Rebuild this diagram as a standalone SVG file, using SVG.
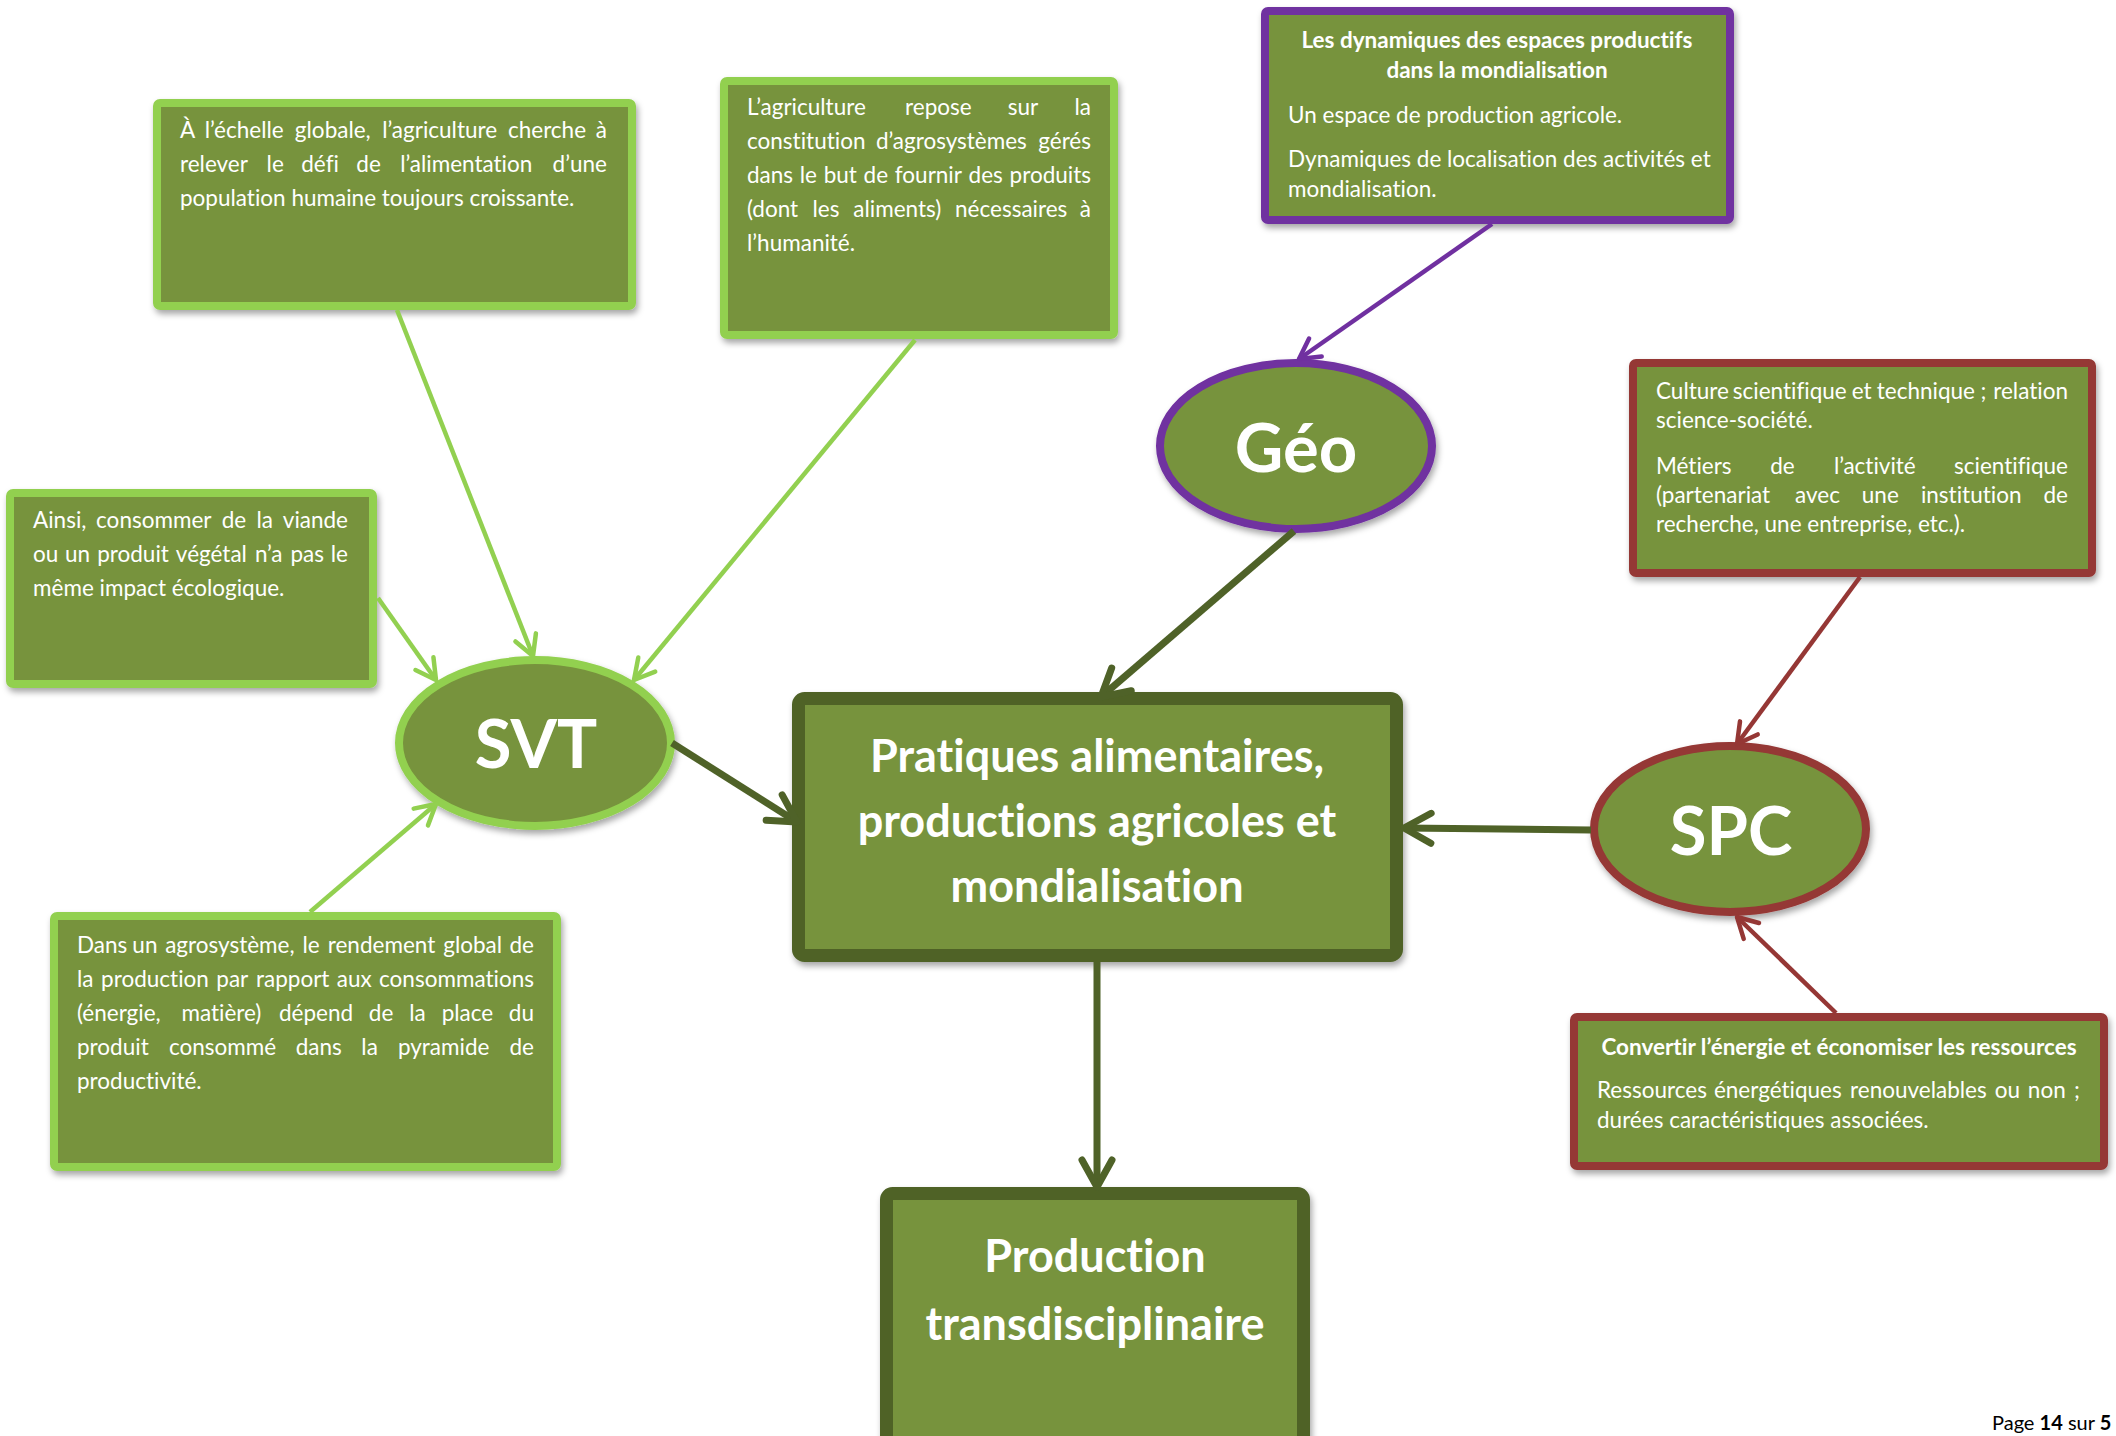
<svg xmlns="http://www.w3.org/2000/svg" width="2116" height="1436" viewBox="0 0 2116 1436">
  <style>
    text { font-variant-ligatures: none; font-feature-settings: "liga" 0, "clig" 0; }
    .t { font-family: Lato, "Liberation Sans", sans-serif; font-size: 22.5px; fill: #ffffff; }
    .tb { font-weight: bold; }
    .m { text-anchor: middle; }
    .e { text-anchor: end; }
    .big { font-family: Lato, "Liberation Sans", sans-serif; font-weight: bold; font-size: 45px; fill: #ffffff; text-anchor: middle; }
    .lab { font-family: Lato, "Liberation Sans", sans-serif; font-weight: bold; font-size: 67px; fill: #ffffff; text-anchor: middle; }
    .bx { fill: #77933C; stroke-width: 8; filter: url(#sh); }
    .lg { stroke: #92D050; }
    .pu { stroke: #7030A0; }
    .rd { stroke: #953735; }
    .dk { stroke: #4F6228; stroke-width: 13; }
    .c { fill: none; stroke-width: 4.5; }
    .cd { fill: none; stroke: #4F6228; stroke-width: 7; }
    .foot { font-family: Lato, "Liberation Sans", sans-serif; font-size: 20px; fill: #000000; }
  </style>
  <defs>
    <filter id="sh" x="-10%" y="-10%" width="125%" height="130%">
      <feDropShadow dx="2" dy="4" stdDeviation="3" flood-color="#000000" flood-opacity="0.35"/>
    </filter>
    <marker id="a-lg" viewBox="-26 -16 30 32" refX="0" refY="0" markerWidth="30" markerHeight="32" markerUnits="userSpaceOnUse" orient="auto">
      <path d="M-20,-11 L0,0 L-20,11" fill="none" stroke="#92D050" stroke-width="4.5" stroke-linecap="round" stroke-linejoin="round"/>
    </marker>
    <marker id="a-pu" viewBox="-26 -16 30 32" refX="0" refY="0" markerWidth="30" markerHeight="32" markerUnits="userSpaceOnUse" orient="auto">
      <path d="M-20,-11 L0,0 L-20,11" fill="none" stroke="#7030A0" stroke-width="4.5" stroke-linecap="round" stroke-linejoin="round"/>
    </marker>
    <marker id="a-rd" viewBox="-26 -16 30 32" refX="0" refY="0" markerWidth="30" markerHeight="32" markerUnits="userSpaceOnUse" orient="auto">
      <path d="M-20,-11 L0,0 L-20,11" fill="none" stroke="#953735" stroke-width="4.5" stroke-linecap="round" stroke-linejoin="round"/>
    </marker>
    <marker id="a-dg" viewBox="-34 -22 40 44" refX="0" refY="0" markerWidth="40" markerHeight="44" markerUnits="userSpaceOnUse" orient="auto">
      <path d="M-27,-15 L0,0 L-27,15" fill="none" stroke="#4F6228" stroke-width="7" stroke-linecap="round" stroke-linejoin="round"/>
    </marker>
  </defs>

  <rect x="0" y="0" width="2116" height="1436" fill="#ffffff"/>

  <!-- SVT: global food challenge -->
  <g id="svt-defi">
    <rect class="bx lg" x="157" y="103" width="475" height="203" rx="3"/>
    <text class="t" x="180" y="138">À</text>
    <text class="t m" x="244.2" y="138">l’échelle</text>
    <text class="t m" x="332.8" y="138">globale,</text>
    <text class="t m" x="439.7" y="138">l’agriculture</text>
    <text class="t m" x="547" y="138">cherche</text>
    <text class="t e" x="607" y="138">à</text>
    <text class="t" x="180" y="172">relever</text>
    <text class="t m" x="275.2" y="172">le</text>
    <text class="t m" x="320.1" y="172">défi</text>
    <text class="t m" x="368.6" y="172">de</text>
    <text class="t m" x="466.3" y="172">l’alimentation</text>
    <text class="t e" x="607" y="172">d’une</text>
    <text class="t" x="180" y="206">population humaine toujours croissante.</text>
  </g>

  <!-- SVT: agrosystems -->
  <g id="svt-agrosystemes">
    <rect class="bx lg" x="724" y="81" width="390" height="254" rx="3"/>
    <text class="t" x="747" y="115">L’agriculture</text>
    <text class="t m" x="938.4" y="115">repose</text>
    <text class="t m" x="1022.9" y="115">sur</text>
    <text class="t e" x="1091" y="115">la</text>
    <text class="t" x="747" y="149">constitution</text>
    <text class="t m" x="951.4" y="149">d’agrosystèmes</text>
    <text class="t e" x="1091" y="149">gérés</text>
    <text class="t" x="747" y="183">dans</text>
    <text class="t m" x="808.4" y="183">le</text>
    <text class="t m" x="840.3" y="183">but</text>
    <text class="t m" x="875.8" y="183">de</text>
    <text class="t m" x="928.4" y="183">fournir</text>
    <text class="t m" x="985.7" y="183">des</text>
    <text class="t e" x="1091" y="183">produits</text>
    <text class="t" x="747" y="217">(dont</text>
    <text class="t m" x="826" y="217">les</text>
    <text class="t m" x="897.3" y="217">aliments)</text>
    <text class="t m" x="1011.2" y="217">nécessaires</text>
    <text class="t e" x="1091" y="217">à</text>
    <text class="t" x="747" y="251">l’humanité.</text>
  </g>

  <!-- Géographie theme -->
  <g id="geo-theme">
    <rect class="bx pu" x="1265" y="11" width="465" height="209" rx="3"/>
    <text class="t tb m" x="1497" y="48">Les dynamiques des espaces productifs</text>
    <text class="t tb m" x="1497" y="78">dans la mondialisation</text>
    <text class="t" x="1288" y="123">Un espace de production agricole.</text>
    <text class="t" x="1288" y="167">Dynamiques de localisation des activités et</text>
    <text class="t" x="1288" y="197">mondialisation.</text>
  </g>

  <!-- SVT: ecological impact -->
  <g id="svt-impact">
    <rect class="bx lg" x="10" y="493" width="363" height="191" rx="3"/>
    <text class="t" x="33" y="528">Ainsi,</text>
    <text class="t m" x="153.8" y="528">consommer</text>
    <text class="t m" x="234" y="528">de</text>
    <text class="t m" x="264.7" y="528">la</text>
    <text class="t e" x="348" y="528">viande</text>
    <text class="t" x="33" y="562">ou</text>
    <text class="t m" x="77.5" y="562">un</text>
    <text class="t m" x="133" y="562">produit</text>
    <text class="t m" x="211.4" y="562">végétal</text>
    <text class="t m" x="268.7" y="562">n’a</text>
    <text class="t m" x="307.2" y="562">pas</text>
    <text class="t e" x="348" y="562">le</text>
    <text class="t" x="33" y="596">même impact écologique.</text>
  </g>

  <!-- SPC: scientific culture -->
  <g id="spc-culture">
    <rect class="bx rd" x="1633" y="363" width="459" height="210" rx="3"/>
    <text class="t" x="1656" y="399">Culture</text>
    <text class="t m" x="1789.8" y="399">scientifique</text>
    <text class="t m" x="1861.6" y="399">et</text>
    <text class="t m" x="1925.9" y="399">technique</text>
    <text class="t m" x="1983.4" y="399">;</text>
    <text class="t e" x="2068" y="399">relation</text>
    <text class="t" x="1656" y="428">science-société.</text>
    <text class="t" x="1656" y="474">Métiers</text>
    <text class="t m" x="1782.5" y="474">de</text>
    <text class="t m" x="1874.8" y="474">l’activité</text>
    <text class="t e" x="2068" y="474">scientifique</text>
    <text class="t" x="1656" y="503">(partenariat</text>
    <text class="t m" x="1817.5" y="503">avec</text>
    <text class="t m" x="1880.3" y="503">une</text>
    <text class="t m" x="1971.2" y="503">institution</text>
    <text class="t e" x="2068" y="503">de</text>
    <text class="t" x="1656" y="532">recherche, une entreprise, etc.).</text>
  </g>

  <!-- SVT: production efficiency -->
  <g id="svt-rendement">
    <rect class="bx lg" x="54" y="916" width="503" height="251" rx="3"/>
    <text class="t" x="77" y="953">Dans</text>
    <text class="t m" x="144.9" y="953">un</text>
    <text class="t m" x="229.9" y="953">agrosystème,</text>
    <text class="t m" x="311.1" y="953">le</text>
    <text class="t m" x="381.5" y="953">rendement</text>
    <text class="t m" x="472.7" y="953">global</text>
    <text class="t e" x="534" y="953">de</text>
    <text class="t" x="77" y="987">la</text>
    <text class="t m" x="155" y="987">production</text>
    <text class="t m" x="232.3" y="987">par</text>
    <text class="t m" x="292.7" y="987">rapport</text>
    <text class="t m" x="354.2" y="987">aux</text>
    <text class="t e" x="534" y="987">consommations</text>
    <text class="t" x="77" y="1021">(énergie,</text>
    <text class="t m" x="221.4" y="1021">matière)</text>
    <text class="t m" x="316" y="1021">dépend</text>
    <text class="t m" x="381.1" y="1021">de</text>
    <text class="t m" x="417.5" y="1021">la</text>
    <text class="t m" x="467.4" y="1021">place</text>
    <text class="t e" x="534" y="1021">du</text>
    <text class="t" x="77" y="1055">produit</text>
    <text class="t m" x="222.6" y="1055">consommé</text>
    <text class="t m" x="318.8" y="1055">dans</text>
    <text class="t m" x="369.6" y="1055">la</text>
    <text class="t m" x="443.7" y="1055">pyramide</text>
    <text class="t e" x="534" y="1055">de</text>
    <text class="t" x="77" y="1089">productivité.</text>
  </g>

  <!-- SPC: energy and resources -->
  <g id="spc-energie">
    <rect class="bx rd" x="1574" y="1017" width="530" height="149" rx="3"/>
    <text class="t tb m" x="1839" y="1055">Convertir l’énergie et économiser les ressources</text>
    <text class="t" x="1597" y="1098">Ressources</text>
    <text class="t m" x="1777.8" y="1098">énergétiques</text>
    <text class="t m" x="1918.4" y="1098">renouvelables</text>
    <text class="t m" x="2007.5" y="1098">ou</text>
    <text class="t m" x="2046.8" y="1098">non</text>
    <text class="t e" x="2080" y="1098">;</text>
    <text class="t" x="1597" y="1128">durées caractéristiques associées.</text>
  </g>

  <!-- Discipline ellipses -->
  <g id="svt">
    <ellipse class="bx lg" cx="535" cy="743" rx="136" ry="83"/>
    <text class="lab" x="536" y="768">SVT</text>
  </g>
  <g id="geo">
    <ellipse class="bx pu" cx="1296" cy="446" rx="136" ry="83"/>
    <text class="lab" x="1296" y="472">Géo</text>
  </g>
  <g id="spc">
    <ellipse class="bx rd" cx="1730" cy="829" rx="136" ry="83"/>
    <text class="lab" x="1731" y="855">SPC</text>
  </g>

  <!-- Central theme -->
  <g id="theme">
    <rect class="bx dk" x="798.5" y="698.5" width="598" height="257" rx="6"/>
    <text class="big" x="1097" y="772">Pratiques alimentaires,</text>
    <text class="big" x="1097" y="837">productions agricoles et</text>
    <text class="big" x="1097" y="902">mondialisation</text>
  </g>

  <!-- Final production -->
  <g id="production">
    <rect class="bx dk" x="886.5" y="1193.5" width="417" height="300" rx="6"/>
    <text class="big" x="1095" y="1272">Production</text>
    <text class="big" x="1095" y="1340">transdisciplinaire</text>
  </g>

  <!-- Connectors -->
  <g id="connectors">
    <line class="c lg" x1="397" y1="310" x2="533" y2="656" marker-end="url(#a-lg)"/>
    <line class="c lg" x1="915" y1="340" x2="634" y2="680" marker-end="url(#a-lg)"/>
    <line class="c lg" x1="378" y1="598" x2="436" y2="680" marker-end="url(#a-lg)"/>
    <line class="c lg" x1="310" y1="912" x2="436" y2="804" marker-end="url(#a-lg)"/>
    <line class="c pu" x1="1492" y1="224" x2="1299" y2="359" marker-end="url(#a-pu)"/>
    <line class="c rd" x1="1860" y1="577" x2="1737" y2="744" marker-end="url(#a-rd)"/>
    <line class="c rd" x1="1836" y1="1013" x2="1737" y2="917" marker-end="url(#a-rd)"/>
    <line class="cd" x1="672" y1="743" x2="797" y2="822" marker-end="url(#a-dg)"/>
    <line class="cd" x1="1294" y1="531" x2="1101" y2="697" marker-end="url(#a-dg)"/>
    <line class="cd" x1="1591" y1="830" x2="1404" y2="828" marker-end="url(#a-dg)"/>
    <line class="cd" x1="1097" y1="962" x2="1097" y2="1187" marker-end="url(#a-dg)"/>
  </g>

  <!-- Page footer -->
  <text class="foot" x="1992" y="1430">Page <tspan font-weight="bold">14</tspan> sur <tspan font-weight="bold">5</tspan></text>
</svg>
